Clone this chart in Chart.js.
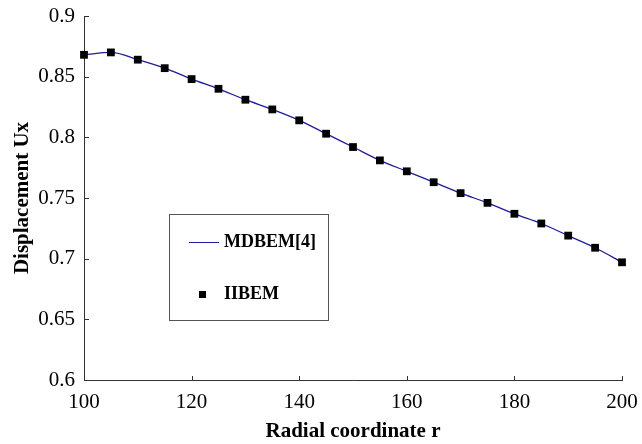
<!DOCTYPE html>
<html>
<head>
<meta charset="utf-8">
<script src="https://cdn.jsdelivr.net/npm/chart.js@4/dist/chart.umd.min.js"></script>
<style>
  html, body { margin: 0; padding: 0; background: #ffffff; }
  #wrap { width: 642px; height: 444px; }
</style>
</head>
<body>
<div id="wrap"><canvas id="uxChart" width="642" height="444"></canvas></div>
<script>
(function () {
  'use strict';

  var radialR = [100, 105, 110, 115, 120, 125, 130, 135, 140, 145, 150,
                 155, 160, 165, 170, 175, 180, 185, 190, 195, 200];
  var mdbemUx = [0.868, 0.870, 0.864, 0.857, 0.848, 0.840, 0.831, 0.823, 0.814, 0.803, 0.792,
                 0.781, 0.772, 0.763, 0.754, 0.746, 0.737, 0.729, 0.719, 0.709, 0.697];
  var iibemUx = [0.868, 0.870, 0.864, 0.857, 0.848, 0.840, 0.831, 0.823, 0.814, 0.803, 0.792,
                 0.781, 0.772, 0.763, 0.754, 0.746, 0.737, 0.729, 0.719, 0.709, 0.697];
  var xTicks = [100, 120, 140, 160, 180, 200];
  var yTicks = [0.6, 0.65, 0.7, 0.75, 0.8, 0.85, 0.9];
  var seriesNames = ['MDBEM[4]', 'IIBEM'];

  var serif = "'Liberation Serif', 'Times New Roman', serif";
  var lineColor = '#1c1c9c';

  function toPoints(xs, ys) {
    return xs.map(function (x, i) { return { x: x, y: ys[i] }; });
  }

  // Excel-like inward tick marks and a boxed legend inside the plot
  var excelLook = {
    id: 'excelLook',
    afterDraw: function (chart) {
      var ctx = chart.ctx;
      var xs = chart.scales.x;
      var ys = chart.scales.y;
      var area = chart.chartArea;
      ctx.save();
      ctx.strokeStyle = '#333333';
      ctx.lineWidth = 1;
      ctx.beginPath();
      xTicks.forEach(function (v) {
        var px = Math.round(xs.getPixelForValue(v)) + 0.5;
        ctx.moveTo(px, area.bottom);
        ctx.lineTo(px, area.bottom - 4);
      });
      yTicks.forEach(function (v) {
        var py = Math.round(ys.getPixelForValue(v)) + 0.5;
        ctx.moveTo(area.left, py);
        ctx.lineTo(area.left + 5, py);
      });
      ctx.stroke();

      // legend box
      ctx.strokeStyle = '#555555';
      ctx.strokeRect(169.5, 214.5, 159, 106);
      ctx.font = 'bold 18px ' + serif;
      ctx.fillStyle = '#000000';
      ctx.textBaseline = 'middle';
      ctx.textAlign = 'left';
      ctx.strokeStyle = lineColor;
      ctx.beginPath();
      ctx.moveTo(189, 242.5);
      ctx.lineTo(219, 242.5);
      ctx.stroke();
      ctx.fillText(seriesNames[0], 224, 242);
      ctx.fillRect(199, 291, 7, 7);
      ctx.fillText(seriesNames[1], 224, 294);
      ctx.restore();
    }
  };

  new Chart(document.getElementById('uxChart'), {
    type: 'scatter',
    data: {
      datasets: [{
        label: seriesNames[0],
        type: 'line',
        data: toPoints(radialR, mdbemUx),
        borderColor: lineColor,
        borderWidth: 1.3,
        pointRadius: 0,
        cubicInterpolationMode: 'monotone',
        fill: false,
        clip: false,
        order: 2
      }, {
        label: seriesNames[1],
        data: toPoints(radialR, iibemUx),
        pointStyle: 'rect',
        pointRadius: 5.5,
        backgroundColor: '#000000',
        borderColor: '#000000',
        borderWidth: 0,
        clip: false,
        order: 1
      }]
    },
    options: {
      responsive: false,
      animation: false,
      layout: { padding: { top: 16, right: 20, left: 0, bottom: 0 } },
      plugins: {
        legend: { display: false },
        tooltip: { enabled: false }
      },
      scales: {
        x: {
          type: 'linear',
          min: 100,
          max: 200,
          afterFit: function (scale) {
            scale.height = 64;
            scale.paddingLeft = 0;
            scale.paddingRight = 0;
          },
          afterBuildTicks: function (scale) {
            scale.ticks = xTicks.map(function (v) { return { value: v }; });
          },
          grid: { display: false, drawTicks: false },
          border: { display: true, color: '#333333', width: 1 },
          ticks: {
            padding: 10,
            color: '#000000',
            font: { family: serif, size: 21 },
            maxRotation: 0
          },
          title: {
            display: true,
            text: 'Radial coordinate r',
            color: '#000000',
            font: { family: serif, size: 21, weight: 'bold' },
            padding: { top: 0, bottom: 0 }
          }
        },
        y: {
          type: 'linear',
          min: 0.6,
          max: 0.9,
          afterFit: function (scale) {
            scale.width = 84;
            scale.paddingTop = 0;
            scale.paddingBottom = 0;
          },
          afterBuildTicks: function (scale) {
            scale.ticks = yTicks.map(function (v) { return { value: v }; });
          },
          grid: { display: false, drawTicks: false },
          border: { display: true, color: '#333333', width: 1 },
          ticks: {
            padding: 9,
            color: '#000000',
            font: { family: serif, size: 21 },
            callback: function (value) { return String(parseFloat(value.toFixed(2))); }
          },
          title: {
            display: true,
            text: 'Displacement Ux',
            color: '#000000',
            font: { family: serif, size: 21, weight: 'bold' },
            padding: { top: 10, bottom: 4 }
          }
        }
      }
    },
    plugins: [excelLook]
  });
}());
</script>
</body>
</html>
